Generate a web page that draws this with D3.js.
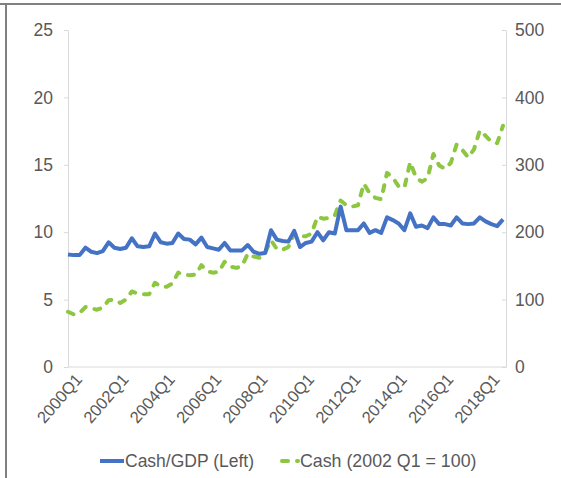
<!DOCTYPE html>
<html>
<head>
<meta charset="utf-8">
<script src="https://cdn.jsdelivr.net/npm/d3@7"></script>
<style>
  body { margin: 0; background: #fff; }
  svg { display: block; font-family: "Liberation Sans", Arial, sans-serif; }
</style>
</head>
<body>
<svg id="chart" width="561" height="478"></svg>
<script>
// quarters 2000Q1 .. 2018Q4
const years = d3.range(2000, 2019);
const quarters = years.flatMap(y => [1, 2, 3, 4].map(q => y + "Q" + q));
const xTickLabels = ["2000Q1", "2002Q1", "2004Q1", "2006Q1", "2008Q1",
                     "2010Q1", "2012Q1", "2014Q1", "2016Q1", "2018Q1"];
const leftTicks = [0, 5, 10, 15, 20, 25];
const rightTicks = [0, 100, 200, 300, 400, 500];

// Cash/GDP (left axis)
const cashGdp = [
  8.35, 8.3, 8.3, 8.85,   8.55, 8.45, 8.6, 9.25,
  8.85, 8.75, 8.85, 9.55, 8.95, 8.9, 8.95, 9.9,
  9.25, 9.15, 9.2, 9.9,   9.5, 9.45, 9.1, 9.6,
  8.9, 8.8, 8.7, 9.2,     8.65, 8.65, 8.65, 9.05,
  8.55, 8.4, 8.45, 10.15, 9.45, 9.35, 9.3, 10.1,
  8.9, 9.2, 9.3, 10.0,    9.4, 10.0, 9.9, 11.9,
  10.15, 10.15, 10.15, 10.65, 9.95, 10.15, 9.95, 11.1,
  10.9, 10.65, 10.15, 11.4,   10.4, 10.5, 10.3, 11.1,
  10.6, 10.6, 10.5, 11.1,     10.65, 10.6, 10.65, 11.1,
  10.8, 10.6, 10.45, 10.95
];

// Cash index, 2002 Q1 = 100 (right axis)
const cashIndex = [
  82, 78, 80, 89,     87, 85, 88, 99,
  100, 95, 100, 112,  109, 108, 108, 125,
  119, 119, 124, 140, 137, 136, 137, 151,
  142, 140, 141, 156, 149, 147, 150, 168,
  164, 162, 170, 188, 175, 174, 178, 198,
  194, 194, 198, 223, 220, 221, 225, 247,
  240, 238, 240, 272, 258, 251, 249, 288,
  281, 268, 266, 304, 281, 275, 280, 316,
  299, 294, 303, 330, 322, 311, 323, 351,
  343, 334, 332, 358
];

const blue = "#4472C4", green = "#8DC640", textCol = "#595959", gridCol = "#d9d9d9";

const svg = d3.select("#chart");
const plotLeft = 68, plotRight = 506, plotTop = 30, plotBottom = 367;

// frame of the screenshot
svg.append("line").attr("x1", 0).attr("x2", 561).attr("y1", 4).attr("y2", 4)
  .attr("stroke", "#808080").attr("stroke-width", 2);
svg.append("line").attr("x1", 6).attr("x2", 6).attr("y1", 4).attr("y2", 478)
  .attr("stroke", "#808080").attr("stroke-width", 2);

const x = d3.scalePoint().domain(quarters).range([plotLeft, 503]);
const yL = d3.scaleLinear().domain([0, 25]).range([plotBottom, plotTop]);
const yR = d3.scaleLinear().domain([0, 500]).range([plotBottom, plotTop]);

// left axis
const gL = svg.append("g").attr("transform", "translate(" + plotLeft + ",0)")
  .call(d3.axisLeft(yL).tickValues(leftTicks).tickSizeInner(4).tickSizeOuter(0).tickPadding(11));
// right axis, ticks drawn inward
const gR = svg.append("g").attr("transform", "translate(" + plotRight + ",0)")
  .call(d3.axisRight(yR).tickValues(rightTicks).tickSizeInner(-4).tickSizeOuter(0).tickPadding(9));

[gL, gR].forEach(g => {
  g.select(".domain").attr("stroke", gridCol);
  g.selectAll(".tick line").attr("stroke", gridCol);
  g.selectAll(".tick text").attr("fill", textCol).style("font-size", "17.5px");
});

// x axis line
svg.append("line").attr("x1", plotLeft).attr("x2", plotRight)
  .attr("y1", plotBottom).attr("y2", plotBottom)
  .attr("stroke", gridCol);

// x labels
svg.append("g").selectAll("text")
  .data(xTickLabels)
  .enter().append("text")
  .attr("transform", d => "translate(" + (x(d) + 15) + "," + (plotBottom + 13) + ") rotate(-49)")
  .attr("text-anchor", "end")
  .attr("fill", textCol)
  .style("font-size", "16.5px")
  .text(d => d);

// lines
const lineL = d3.line().x((d, i) => x(quarters[i])).y(d => yL(d));
const lineR = d3.line().x((d, i) => x(quarters[i])).y(d => yR(d));

svg.append("path").datum(cashIndex)
  .attr("d", lineR)
  .attr("fill", "none")
  .attr("stroke", green)
  .attr("stroke-width", 4)
  .attr("stroke-linecap", "round")
  .attr("stroke-linejoin", "round")
  .attr("stroke-dasharray", "6,9");

svg.append("path").datum(cashGdp)
  .attr("d", lineL)
  .attr("fill", "none")
  .attr("stroke", blue)
  .attr("stroke-width", 4)
  .attr("stroke-linejoin", "round");

// legend
const leg = svg.append("g").attr("transform", "translate(0,461)");
leg.append("line").attr("x1", 100).attr("x2", 124).attr("y1", 0).attr("y2", 0)
  .attr("stroke", blue).attr("stroke-width", 4);
leg.append("text").attr("x", 125).attr("y", 6).attr("fill", textCol)
  .style("font-size", "17.5px").text("Cash/GDP (Left)");
leg.append("line").attr("x1", 282).attr("x2", 298).attr("y1", 0).attr("y2", 0)
  .attr("stroke", green).attr("stroke-width", 4)
  .attr("stroke-linecap", "round").attr("stroke-dasharray", "6,9");
leg.append("text").attr("x", 300).attr("y", 6).attr("fill", textCol)
  .style("font-size", "17.8px").text("Cash (2002 Q1 = 100)");
</script>
</body>
</html>
